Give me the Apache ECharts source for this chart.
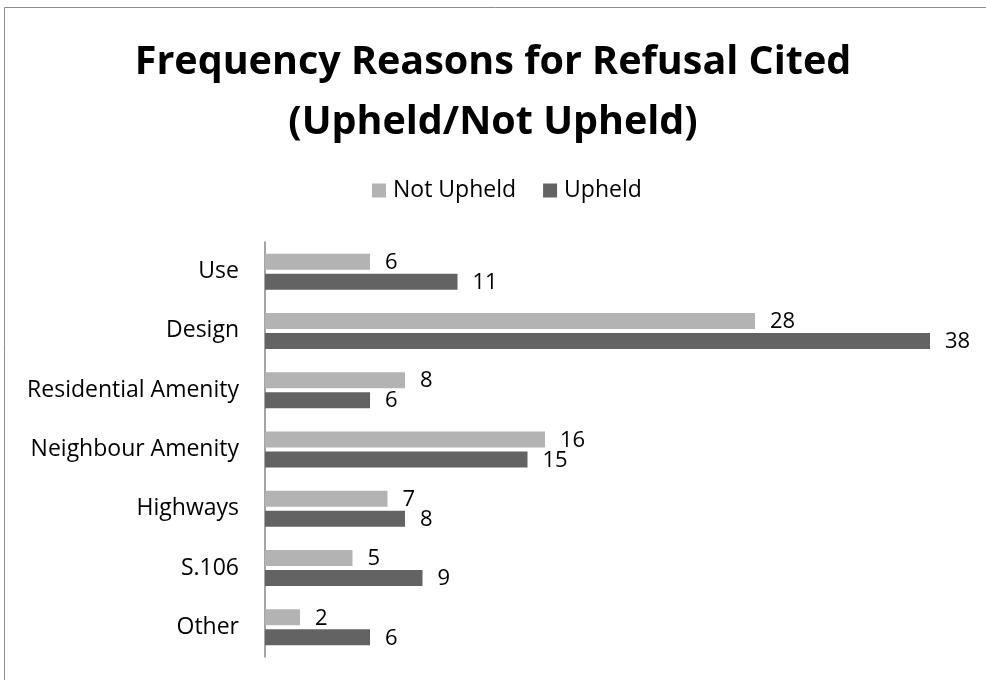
<!DOCTYPE html>
<html>
<head>
<meta charset="utf-8">
<script src="https://cdn.jsdelivr.net/npm/echarts@6/dist/echarts.min.js"></script>
<style>
  html, body { margin: 0; padding: 0; background: #fff; }
  #chart { width: 986px; height: 680px; }
</style>
</head>
<body>
<div id="chart"></div>
<script>
// Reasons for refusal, top to bottom
const categories = ['Use', 'Design', 'Residential Amenity', 'Neighbour Amenity', 'Highways', 'S.106', 'Other'];
const notUpheld = [6, 28, 8, 16, 7, 5, 2];
const upheld = [11, 38, 6, 15, 8, 9, 6];
const seriesNames = ['Not Upheld', 'Upheld'];

const FONT = '"Open Sans", "Liberation Sans", sans-serif';

const chart = echarts.init(document.getElementById('chart'), null, { renderer: 'canvas' });

const labelStyle = {
  show: true,
  position: 'right',
  distance: 15,
  offset: [0, 1],
  color: '#000',
  fontSize: 22,
  fontFamily: FONT
};

chart.setOption({
  animation: false,
  backgroundColor: '#fff',
  graphic: [{
    type: 'rect',
    shape: { x: 4.5, y: 7.5, width: 1000, height: 700 },
    style: { fill: 'none', stroke: '#8c8c8c', lineWidth: 1 },
    silent: true
  }],
  title: {
    text: 'Frequency Reasons for Refusal Cited\n(Upheld/Not Upheld)',
    left: 'center',
    top: 28,
    textStyle: {
      fontFamily: FONT,
      fontWeight: 'bold',
      fontSize: 39.5,
      lineHeight: 60,
      color: '#000'
    }
  },
  legend: {
    top: 179,
    left: 372,
    padding: 0,
    itemWidth: 14,
    itemHeight: 14,
    itemGap: 27,
    icon: 'rect',
    textStyle: { fontFamily: FONT, fontSize: 23, color: '#000', padding: [0, 0, 0, 2] },
    data: seriesNames
  },
  grid: { left: 265, right: 21, top: 242, bottom: 23 },
  xAxis: {
    type: 'value',
    min: 0,
    max: 40,
    show: false
  },
  yAxis: {
    type: 'category',
    inverse: true,
    data: categories,
    axisLine: { show: true, lineStyle: { color: '#868686', width: 1.5 } },
    axisTick: { show: false },
    axisLabel: { margin: 26, color: '#000', fontSize: 23, fontFamily: FONT },
    splitLine: { show: false }
  },
  series: [
    {
      name: seriesNames[0],
      type: 'bar',
      data: notUpheld,
      barWidth: 16,
      barGap: '25%',
      itemStyle: { color: '#b3b3b3' },
      label: labelStyle
    },
    {
      name: seriesNames[1],
      type: 'bar',
      data: upheld,
      barWidth: 16,
      barGap: '25%',
      itemStyle: { color: '#636363' },
      label: labelStyle
    }
  ]
});
</script>
</body>
</html>
